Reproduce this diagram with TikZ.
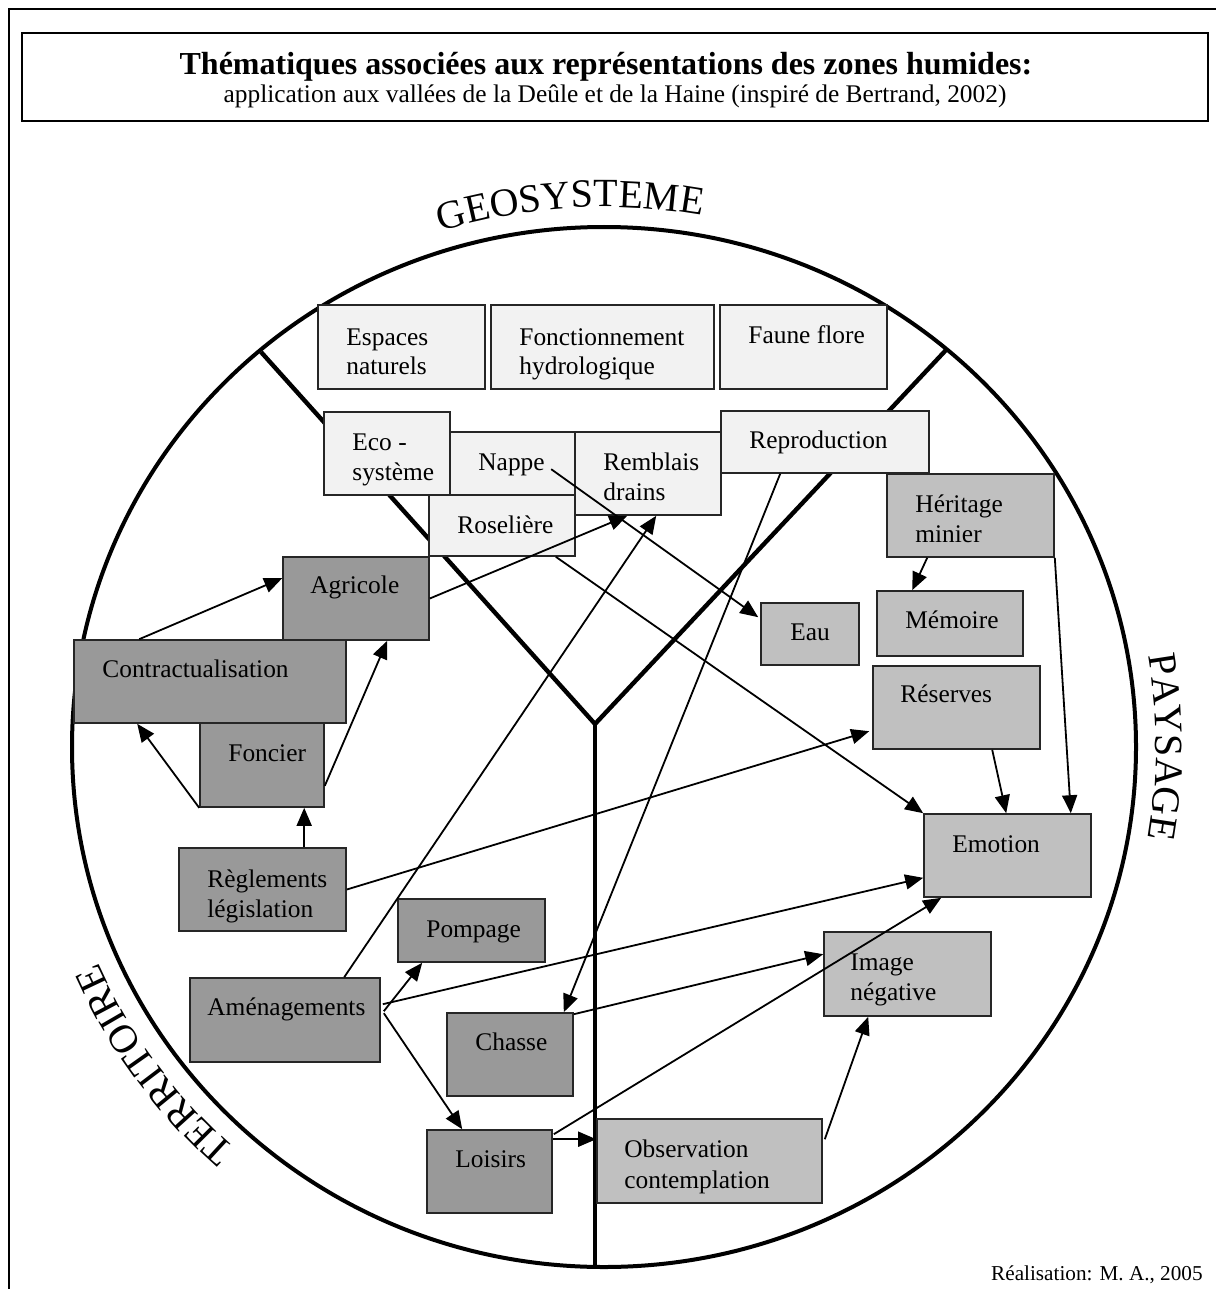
\documentclass[tikz,border=0pt]{standalone}
\usepackage{fontspec}
\setmainfont{Liberation Serif}
\usetikzlibrary{arrows.meta,fit,calc,decorations.text}
\definecolor{lightfill}{HTML}{F2F2F2}
\definecolor{midfill}{HTML}{C0C0C0}
\definecolor{darkfill}{HTML}{999999}
\newcommand\btxt{\fontsize{12.7pt}{15pt}\selectfont}
\newcommand\arcfont{\fontsize{20pt}{24pt}\selectfont}
\begin{document}
\begin{tikzpicture}[x=0.5pt,y=0.5pt,
  box/.style={draw=black!85, line width=0.8pt, inner sep=0pt},
  lightbox/.style={box, fill=lightfill},
  midbox/.style={box, fill=midfill},
  darkbox/.style={box, fill=darkfill},
  txt/.style={anchor=base west, inner sep=0pt, font=\btxt},
  arr/.style={line width=0.9pt, -{Triangle[length=9pt,width=7.5pt]}},
  heavy/.style={line width=2.2pt},
  arctext/.style={decorate, decoration={text along path, text align=center, text={|\arcfont|#1}}}
]
\useasboundingbox (0,0) rectangle (1216,-1289);
\fill[white] (0,0) rectangle (1216,-1289);
% page frame
\draw[line width=0.8pt] (9,-1289) -- (9,-9) -- (1216,-9);
% title
\node[box, draw=black, fit={(22,-33) (1208,-121)}] (tbox) {};
\node[anchor=base, inner sep=0pt, font=\fontsize{16pt}{19pt}\selectfont\bfseries] (title) at (606,-75) {Thématiques associées aux représentations des zones humides:};
\node[anchor=base, inner sep=0pt, font=\btxt] (subtitle) at (615,-103) {application aux vallées de la Deûle et de la Haine (inspiré de Bertrand, 2002)};
% circle and Y
\coordinate (c) at (604,-747);
\draw[line width=2pt] (c) ellipse [x radius=532, y radius=520];
\coordinate (ytl) at (261,-352);
\coordinate (ytr) at (946,-350);
\coordinate (yv) at (595,-724);
\coordinate (yb) at (595,-1267);
\draw[heavy, line join=miter] (ytl) -- (yv) -- (ytr);
\draw[line width=1.8pt] (yv) -- (yb);
% arc labels
\path[arctext=GEOSYSTEME] (c) ++(113.5:552 and 540) arc[start angle=113.5, end angle=73.5, x radius=552, y radius=540];
\path[arctext=PAYSAGE] (c) ++(20:552 and 540) arc[start angle=20, end angle=-20, x radius=552, y radius=540];
\path[arctext=TERRITOIRE] (c) ++(235.75:552 and 540) arc[start angle=235.75, end angle=195.75, x radius=552, y radius=540];
% GEOSYSTEME boxes
\node[lightbox, fit={(318,-305) (485,-389)}] (esp) {};
\node[lightbox, fit={(491,-305) (714,-389)}] (fon) {};
\node[lightbox, fit={(720,-305) (887,-389)}] (fau) {};
\node[lightbox, fit={(324,-412) (450,-495)}] (eco) {};
\node[lightbox, fit={(450,-432) (575,-495)}] (nap) {};
\node[lightbox, fit={(575,-432) (721,-515)}] (rem) {};
\node[lightbox, fit={(721,-411) (929,-473)}] (rep) {};
\node[lightbox, fit={(429,-495) (575,-556)}] (ros) {};
% TERRITOIRE boxes
\node[darkbox, fit={(283,-557) (429,-640)}] (agr) {};
\node[darkbox, fit={(74,-640) (346,-723)}] (con) {};
\node[darkbox, fit={(200,-723) (324,-807)}] (fonc) {};
\node[darkbox, fit={(179,-848) (346,-931)}] (reg) {};
\node[darkbox, fit={(398,-899) (545,-962)}] (pom) {};
\node[darkbox, fit={(190,-978) (380,-1062)}] (ame) {};
\node[darkbox, fit={(447,-1013) (573,-1096)}] (cha) {};
\node[darkbox, fit={(427,-1130) (552,-1213)}] (loi) {};
% PAYSAGE boxes
\node[midbox, fit={(887,-474) (1054,-557)}] (her) {};
\node[midbox, fit={(877,-591) (1023,-656)}] (mem) {};
\node[midbox, fit={(761,-603) (859,-665)}] (eau) {};
\node[midbox, fit={(873,-666) (1040,-749)}] (res) {};
\node[midbox, fit={(924,-814) (1091,-897)}] (emo) {};
\node[midbox, fit={(824,-932) (991,-1016)}] (img) {};
\node[midbox, fit={(597,-1119) (822,-1203)}] (obs) {};
% texts
\node[txt] (t-esp1) at (346,-345) {Espaces};
\node[txt] (t-esp2) at (346,-374) {naturels};
\node[txt] (t-fon1) at (519,-345) {Fonctionnement};
\node[txt] (t-fon2) at (519,-374) {hydrologique};
\node[txt] (t-fau) at (748,-343) {Faune flore};
\node[txt] (t-eco1) at (352,-450) {Eco -};
\node[txt] (t-eco2) at (352,-480) {système};
\node[txt] (t-nap) at (478,-470) {Nappe};
\node[txt] (t-rem1) at (603,-470) {Remblais};
\node[txt] (t-rem2) at (603,-500) {drains};
\node[txt] (t-rep) at (749,-448) {Reproduction};
\node[txt] (t-ros) at (457,-533) {Roselière};
\node[txt] (t-agr) at (310,-593) {Agricole};
\node[txt] (t-con) at (102,-677) {Contractualisation};
\node[txt] (t-fonc) at (228,-761) {Foncier};
\node[txt] (t-reg1) at (207,-887) {Règlements};
\node[txt] (t-reg2) at (207,-917) {législation};
\node[txt] (t-pom) at (426,-937) {Pompage};
\node[txt] (t-ame) at (207,-1015) {Aménagements};
\node[txt] (t-cha) at (475,-1050) {Chasse};
\node[txt] (t-loi) at (455,-1167) {Loisirs};
\node[txt] (t-obs1) at (624,-1157) {Observation};
\node[txt] (t-obs2) at (624,-1188) {contemplation};
\node[txt] (t-img1) at (850,-970) {Image};
\node[txt] (t-img2) at (850,-1000) {négative};
\node[txt] (t-emo) at (952,-852) {Emotion};
\node[txt] (t-res) at (900,-702) {Réserves};
\node[txt] (t-mem) at (905,-628) {Mémoire};
\node[txt] (t-eau) at (790,-640) {Eau};
\node[txt] (t-her1) at (915,-512) {Héritage};
\node[txt] (t-her2) at (915,-542) {minier};
% connectors
\draw[arr] ($(con.north west)+(66,0)$) -- ($(agr.north west)+(0,-22)$);
\draw[arr] (fonc.south west) -- ($(con.south west)+(64,0)$);
\draw[arr] ($(fonc.south east)+(0,22)$) -- ($(agr.south west)+(105,0)$);
\draw[arr] ($(reg.north west)+(126,0)$) -- ($(fonc.south west)+(105,0)$);
\draw[arr] (agr.east) -- ($(rem.south west)+(53,0)$);
\draw[arr] ($(ame.north west)+(155,0)$) -- ($(rem.south west)+(82,0)$);
\draw[arr] ($(nap.north west)+(102,-38)$) -- ($(eau.north west)+(-2,-15)$);
\draw[arr] ($(ros.south east)+(-20,0)$) -- (emo.north west);
\draw[arr] ($(rep.south west)+(60,0)$) -- ($(cha.north east)+(-10,0)$);
\draw[arr] ($(her.south west)+(41,0)$) -- ($(mem.north west)+(36,0)$);
\draw[arr] (her.south east) -- ($(emo.north east)+(-21,0)$);
\draw[arr] ($(res.south west)+(120,0)$) -- ($(emo.north west)+(83,0)$);
\draw[arr] (reg.east) -- ($(res.north west)+(-3,-66)$);
\draw[arr] ($(ame.north east)+(2,-27)$) -- ($(emo.south west)+(0,20)$);
\draw[arr] ($(ame.north east)+(3,-34)$) -- ($(pom.south west)+(25,0)$);
\draw[arr] ($(ame.north east)+(3,-36)$) -- ($(loi.north west)+(36,0)$);
\draw[arr] ($(cha.north east)+(0,-2)$) -- ($(img.north west)+(0,-23)$);
\draw[arr] ($(loi.north east)+(1,-5)$) -- ($(emo.south west)+(18,0)$);
\draw[arr] ($(loi.north east)+(0,-10)$) -- ($(obs.north west)+(0,-21)$);
\draw[arr] ($(obs.north east)+(2,-21)$) -- ($(img.south west)+(45,0)$);
% credit
\node[anchor=base east, inner sep=0pt, font=\fontsize{10.6pt}{12pt}\selectfont] (credit) at (1203,-1280) {Réalisation: M. A., 2005};
\end{tikzpicture}
\end{document}
